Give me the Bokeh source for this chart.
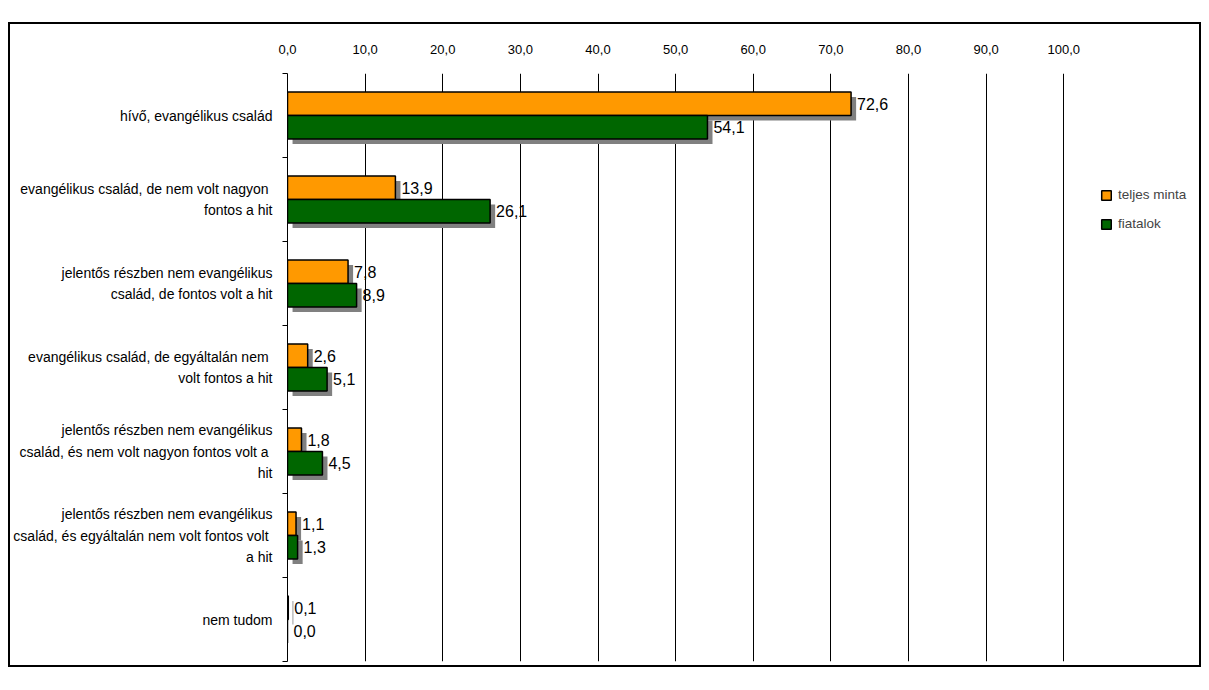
from bokeh.plotting import figure
from bokeh.models import (Range1d, FixedTicker, Legend, LegendItem, ColumnDataSource,
                          Spacer)
from bokeh.layouts import column, row
from bokeh.transform import dodge
from bokeh.core.properties import value
from bokeh.embed import file_html
from bokeh.resources import INLINE

# ---- data ----
categories = [
    "hívő, evangélikus család",
    "evangélikus család, de nem volt nagyon \nfontos a hit",
    "jelentős részben nem evangélikus\ncsalád, de fontos volt a hit",
    "evangélikus család, de egyáltalán nem \nvolt fontos a hit",
    "jelentős részben nem evangélikus\ncsalád, és nem volt nagyon fontos volt a \nhit",
    "jelentős részben nem evangélikus\ncsalád, és egyáltalán nem volt fontos volt \na hit",
    "nem tudom",
]
series_names = ["teljes minta", "fiatalok"]
teljes_minta = [72.6, 13.9, 7.8, 2.6, 1.8, 1.1, 0.1]
fiatalok = [54.1, 26.1, 8.9, 5.1, 4.5, 1.3, 0.0]
x_ticks = [0, 10, 20, 30, 40, 50, 60, 70, 80, 90, 100]
x_tick_labels = ["0,0", "10,0", "20,0", "30,0", "40,0", "50,0", "60,0",
                 "70,0", "80,0", "90,0", "100,0"]

FONT = "Liberation Sans"
ORANGE = "#FF9900"
GREEN = "#006600"
SHADOW = "#808080"

pos = [i + 0.5 for i in range(len(categories))]
bounds = list(range(len(categories) + 1))


def fmt(v):
    return f"{v:.1f}".replace(".", ",")


src = ColumnDataSource(dict(
    pos=pos,
    cat=categories,
    teljes=teljes_minta,
    fiatal=fiatalok,
    teljes_lbl=[fmt(v) for v in teljes_minta],
    fiatal_lbl=[fmt(v) for v in fiatalok],
))

# frame spans 0..100 over ~775px; extra room on the right hosts the legend
p = figure(width=1193, height=645, x_range=Range1d(0, 118.0),
           y_range=Range1d(len(categories), 0),
           x_axis_location="above", output_backend="svg", toolbar_location=None,
           min_border_left=276, min_border_right=0, min_border_top=49, min_border_bottom=8)
p.styles = {"border": "2px solid black"}
p.outline_line_color = None
p.background_fill_color = "white"
p.border_fill_color = "white"

H = 0.28
OFF = 0.14
SX = 0.65   # shadow x offset (~5px)
SY = 0.06   # shadow y offset (~5px)

# shadows
p.hbar(y=dodge("pos", -OFF + SY), left=SX, right=dodge("teljes", SX), height=H,
       source=src, fill_color=SHADOW, line_color=None)
p.hbar(y=dodge("pos", OFF + SY), left=SX, right=dodge("fiatal", SX), height=H,
       source=src, fill_color=SHADOW, line_color=None)

# bars
r1 = p.hbar(y=dodge("pos", -OFF), left=0, right="teljes", height=H, source=src,
            fill_color=ORANGE, line_color="black", line_width=1.5)
r2 = p.hbar(y=dodge("pos", OFF), left=0, right="fiatal", height=H, source=src,
            fill_color=GREEN, line_color="black", line_width=1.5)

# value labels
p.text(x="teljes", y=dodge("pos", -OFF), text="teljes_lbl", source=src, x_offset=6,
       text_baseline="middle", text_align="left", text_font=value(FONT),
       text_font_size="16px", text_color="black")
p.text(x="fiatal", y=dodge("pos", OFF), text="fiatal_lbl", source=src, x_offset=6,
       text_baseline="middle", text_align="left", text_font=value(FONT),
       text_font_size="16px", text_color="black")

# x axis (top)
xa = p.xaxis[0]
xa.ticker = FixedTicker(ticks=x_ticks)
xa.major_label_overrides = {t: l for t, l in zip(x_ticks, x_tick_labels)}
xa.axis_line_color = None
xa.major_tick_line_color = None
xa.minor_tick_line_color = None
xa.major_label_standoff = 14
xa.major_label_text_font = FONT
xa.major_label_text_font_size = "13px"
xa.major_label_text_color = "black"

p.xgrid.ticker = FixedTicker(ticks=x_ticks)
p.xgrid.grid_line_color = "black"
p.xgrid.grid_line_width = 1
p.ygrid.grid_line_color = None

# y axis
ya = p.yaxis[0]
ya.ticker = FixedTicker(ticks=pos, minor_ticks=bounds)
ya.major_label_overrides = {t: c for t, c in zip(pos, categories)}
ya.axis_line_color = "black"
ya.axis_line_width = 1
ya.major_tick_line_color = None
ya.minor_tick_line_color = "black"
ya.minor_tick_out = 5
ya.minor_tick_in = 0
ya.major_label_standoff = 9
ya.major_label_text_font = FONT
ya.major_label_text_font_size = "14px"
ya.major_label_text_color = "black"
ya.major_label_text_line_height = 1.35

# legend (inside the widened frame, right of the 100 gridline)
legend = Legend(items=[LegendItem(label=series_names[0], renderers=[r1]),
                       LegendItem(label=series_names[1], renderers=[r2])],
                location=(813, 430), padding=0, margin=0, spacing=14,
                glyph_width=12, glyph_height=12, label_height=12, label_standoff=6,
                border_line_color=None, background_fill_alpha=0,
                label_text_font=FONT, label_text_font_size="13.5px")
p.add_layout(legend, "center")

layout = column(Spacer(height=22), row(Spacer(width=8), p))
open("out.html", "w").write(file_html(layout, INLINE))
